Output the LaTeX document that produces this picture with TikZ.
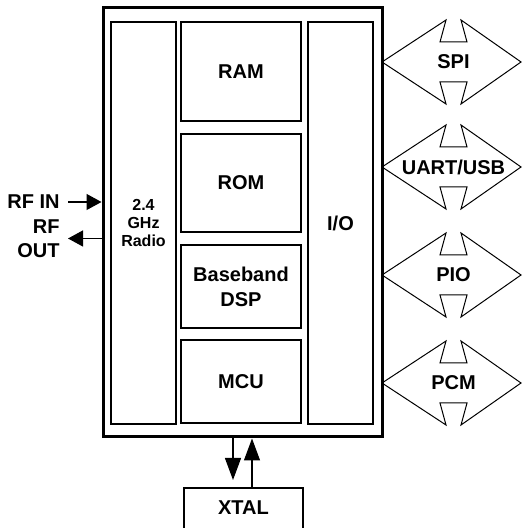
\documentclass[tikz,border=0pt]{standalone}
\usepackage{fontspec}
\setmainfont{Liberation Sans}
\usepackage{tikz}
\usetikzlibrary{arrows.meta}

\begin{document}
\begin{tikzpicture}[x=0.5pt,y=0.5pt,
    every node/.style={font=\bfseries\fontsize{10}{12}\selectfont},
    blk/.style={draw,line width=0.8pt,minimum width=60pt,align=center},
    col/.style={draw,line width=0.8pt,minimum width=32.5pt,minimum height=201pt,align=center},
    sig/.style={line width=0.6pt,-{Triangle[length=7.5pt,width=8pt]}},
    xsig/.style={line width=0.6pt,-{Triangle[length=11pt,width=8pt]}}]
    \useasboundingbox (0,0) rectangle (522,528);
    % chip and its blocks
    \node (chip) [draw,line width=1.5pt,minimum width=139.5pt,minimum height=214.5pt] at (242.5,305.5) {};
    \node (radio) [col,font=\bfseries\fontsize{8}{9}\selectfont] at (143.5,305) {2.4\\GHz\\Radio};
    \node (io) [col] at (340.5,305) {I/O};
    \node (ram) [blk,minimum height=49.5pt] at (241,456.5) {RAM};
    \node (rom) [blk,minimum height=49pt] at (241,345) {ROM};
    \node (dsp) [blk,minimum height=41.5pt,font=\bfseries\fontsize{10}{12.5}\selectfont] at (241,241.5) {Baseband\\DSP};
    \node (mcu) [blk,minimum height=41.5pt] at (241,146.5) {MCU};
    % crystal
    \node (xtal) [blk,minimum width=59.5pt,minimum height=28pt,text depth=8pt,anchor=north] at (243.5,41) {XTAL};
    \draw[xsig] ([xshift=-5.25pt]xtal.north |- chip.south) -- ([xshift=-5.25pt,yshift=3.5pt]xtal.north);
    \draw[xsig] ([xshift=4.25pt]xtal.north) -- ([xshift=4.25pt]xtal.north |- chip.south);
    % rf
    \node (rfin) [anchor=east,inner sep=0] at (60,326) {RF IN};
    \node (rfout) [anchor=east,inner sep=0,align=right] at (60,289.5) {RF\\OUT};
    \draw[sig] ([xshift=4pt]rfin.east) -- (rfin.east -| chip.west);
    \draw[sig] (rfout.east -| chip.west) -- ([xshift=4pt]rfout.east);
    % interfaces
    \foreach \y/\name/\txt in {466/spi/SPI, 361/uart/{UART/USB}, 253/pio/PIO, 145/pcm/PCM} {
      \draw[line width=0.5pt] (382,\y) -- (446,\y+42) -- (440,\y+20) -- (467,\y+20) -- (461,\y+42)
        -- (521,\y) -- (461,\y-42) -- (467,\y-20) -- (440,\y-20) -- (446,\y-42) -- cycle;
      \node (\name) at (453.5,\y) {\txt};
    }
\end{tikzpicture}
\end{document}
